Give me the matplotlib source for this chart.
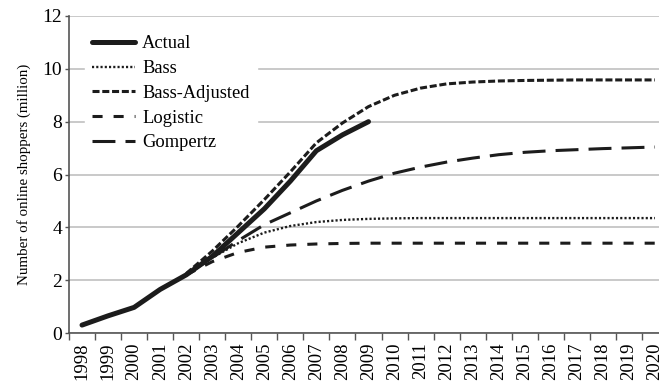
import matplotlib
matplotlib.use("Agg")
import matplotlib.pyplot as plt
import numpy as np

years = list(range(1998, 2021))
actual_years = list(range(1998, 2010))
actual = [0.3, 0.65, 0.97, 1.65, 2.2, 2.9, 3.8, 4.7, 5.75, 6.9, 7.5, 8.0]

model_years = list(range(2002, 2021))
bass = [2.2, 2.85, 3.4, 3.8, 4.05, 4.2, 4.28, 4.32, 4.34, 4.35, 4.35, 4.35, 4.35, 4.35,
        4.35, 4.35, 4.35, 4.35, 4.35]
bass_adj = [2.25, 3.1, 4.05, 5.05, 6.1, 7.2, 7.95, 8.57, 9.0, 9.27, 9.43, 9.5, 9.54,
            9.56, 9.57, 9.58, 9.58, 9.58, 9.58]
logistic = [2.2, 2.7, 3.05, 3.25, 3.33, 3.37, 3.39, 3.4, 3.4, 3.4, 3.4, 3.4, 3.4, 3.4,
            3.4, 3.4, 3.4, 3.4, 3.4]
gompertz = [2.2, 2.85, 3.5, 4.1, 4.55, 5.0, 5.4, 5.75, 6.05, 6.28, 6.47, 6.62, 6.75,
            6.84, 6.9, 6.94, 6.98, 7.01, 7.04]

plt.rcParams['font.family'] = ['Liberation Serif', 'DejaVu Serif']

fig = plt.figure(figsize=(6.59, 3.81), dpi=100)
ax = fig.add_axes([69/659, 48/381, 599/659, 317/381])

def idx(ys):
    return [years.index(y) for y in ys]

ink = '#1c1c1c'
ax.plot(idx(actual_years), actual, color=ink, lw=3.6, solid_capstyle='round', label='Actual', zorder=5)
ax.plot(idx(model_years), bass, color=ink, lw=1.7, linestyle=(0, (0.9, 0.9)), label='Bass', zorder=4)
ax.plot(idx(model_years), bass_adj, color=ink, lw=2.2, linestyle=(0, (2.3, 0.9)), label='Bass-Adjusted', zorder=4)
ax.plot(idx(model_years), logistic, color=ink, lw=2.2, linestyle=(0, (3.3, 3.6)), label='Logistic', zorder=4)
ax.plot(idx(model_years), gompertz, color=ink, lw=2.2, linestyle=(0, (7.5, 3.3)), label='Gompertz', zorder=4)

ax.set_xlim(-0.5, len(years) - 0.5)
ax.set_ylim(0, 12)
ax.set_yticks([0, 2, 4, 6, 8, 10, 12])
ax.set_xticks(range(len(years)))
ax.set_xticklabels([str(y) for y in years], rotation=90, fontsize=13.5)
ax.set_xticks(np.arange(-0.5, len(years) + 0.5, 1), minor=True)
ax.tick_params(axis='x', which='major', length=0, pad=7)
ax.tick_params(axis='x', which='minor', length=5, width=1, color='#555555', direction='out')
ax.tick_params(axis='y', length=3, width=1, color='#555555', labelsize=14, pad=2)

ax.grid(axis='y', color='#bbbbbb', lw=1.1)
ax.set_axisbelow(True)
for s in ['top', 'right']:
    ax.spines[s].set_visible(False)
for s in ['left', 'bottom']:
    ax.spines[s].set_color('#555555')
    ax.spines[s].set_linewidth(1.2)

ax.set_ylabel('Number of online shoppers (million)', fontsize=10.8, labelpad=8)

leg = ax.legend(loc='upper left', bbox_to_anchor=(0.017, 0.98), frameon=True, fontsize=13.3,
                handlelength=2.3, handletextpad=0.4, labelspacing=0.42, borderpad=0.4,
                fancybox=False, borderaxespad=0.3)
leg.get_frame().set_edgecolor('white')
leg.get_frame().set_facecolor('white')
leg.get_frame().set_alpha(1)

fig.savefig('out.png', dpi=100)
